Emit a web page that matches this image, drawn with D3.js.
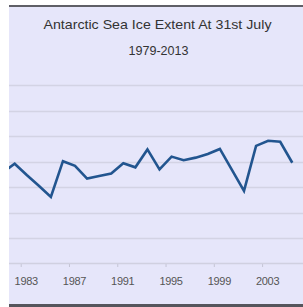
<!DOCTYPE html>
<html><head><meta charset="utf-8">
<script src="https://cdn.jsdelivr.net/npm/d3@7"></script>
<style>html,body{margin:0;padding:0;background:#fff;}svg{display:block;}</style>
</head><body>
<svg id="c" width="303" height="307"></svg>
<script>
const title = "Antarctic Sea Ice Extent At 31st July";
const subtitle = "1979-2013";
const years = [1981,1982,1983,1984,1985,1986,1987,1988,1989,1990,1991,1992,1993,1994,1995,1996,1997,1998,1999,2000,2001,2002,2003,2004,2005];
const extent = [16.29,16.46,16.24,16.03,15.81,16.51,16.42,16.17,16.22,16.27,16.47,16.39,16.74,16.35,16.60,16.53,16.58,16.65,16.75,16.34,15.93,16.81,16.91,16.89,16.48];
const tickYears = [1983,1987,1991,1995,1999,2003];
const gridValues = [15.0,15.5,16.0,16.5,17.0,17.5,18.0];

const svg = d3.select("#c");
const W = 303, H = 307;
svg.append("rect").attr("x",0).attr("y",0).attr("width",W).attr("height",H).attr("fill","#ffffff");
svg.append("rect").attr("x",9).attr("y",7).attr("width",W-9).attr("height",297).attr("fill","#e6e6fa");
svg.append("rect").attr("x",9).attr("y",5).attr("width",W-9).attr("height",2).attr("fill","#5f5f66");
svg.append("rect").attr("x",9).attr("y",304).attr("width",W-9).attr("height",3).attr("fill","#55555c");

const x = d3.scaleLinear().domain([1983,2003]).range([20.7,262.1]);
const y = d3.scaleLinear().domain([14.5,18.0]).range([264,85]);

svg.append("defs").append("clipPath").attr("id","clip")
  .append("rect").attr("x",9).attr("y",7).attr("width",W-9).attr("height",297);

const g = svg.append("g").attr("clip-path","url(#clip)");

g.selectAll("line.grid").data(gridValues).enter().append("line")
  .attr("class","grid")
  .attr("x1",9).attr("x2",W)
  .attr("y1",d=>Math.round(y(d))+0.5).attr("y2",d=>Math.round(y(d))+0.5)
  .attr("stroke","#d3d3e4").attr("stroke-width",1.5);

// x axis
const axis = d3.axisBottom(x).tickValues(tickYears).tickFormat(d3.format("d")).tickSize(3).tickPadding(10);
const ax = g.append("g").attr("transform","translate(0,264)").call(axis);
ax.select(".domain").remove();
ax.append("line").attr("x1",9).attr("x2",W).attr("y1",-0.5).attr("y2",-0.5).attr("stroke","#d0d0e0").attr("stroke-width",1.5);
ax.selectAll(".tick line").attr("stroke","#c4c4d4");
ax.selectAll(".tick text").attr("fill","#555").attr("dx","5")
  .attr("font-family","Liberation Sans, Arial, sans-serif").attr("font-size","11px").attr("letter-spacing","-0.3px");

const line = d3.line().x((d,i)=>x(years[i]+0.5)).y(d=>y(d));
g.append("path").datum(extent).attr("d",line)
  .attr("fill","none").attr("stroke","#22558f").attr("stroke-width",2.6).attr("stroke-linejoin","miter");

svg.append("text").attr("x",157.5).attr("y",29).attr("text-anchor","middle")
  .attr("font-family","Liberation Sans, Arial, sans-serif").attr("font-size","13px")
  .attr("fill","#333").attr("textLength",228).attr("lengthAdjust","spacingAndGlyphs").text(title);
svg.append("text").attr("x",158.5).attr("y",55).attr("text-anchor","middle")
  .attr("font-family","Liberation Sans, Arial, sans-serif").attr("font-size","12px")
  .attr("fill","#333").attr("textLength",60).attr("lengthAdjust","spacingAndGlyphs").text(subtitle);
</script>
</body></html>
